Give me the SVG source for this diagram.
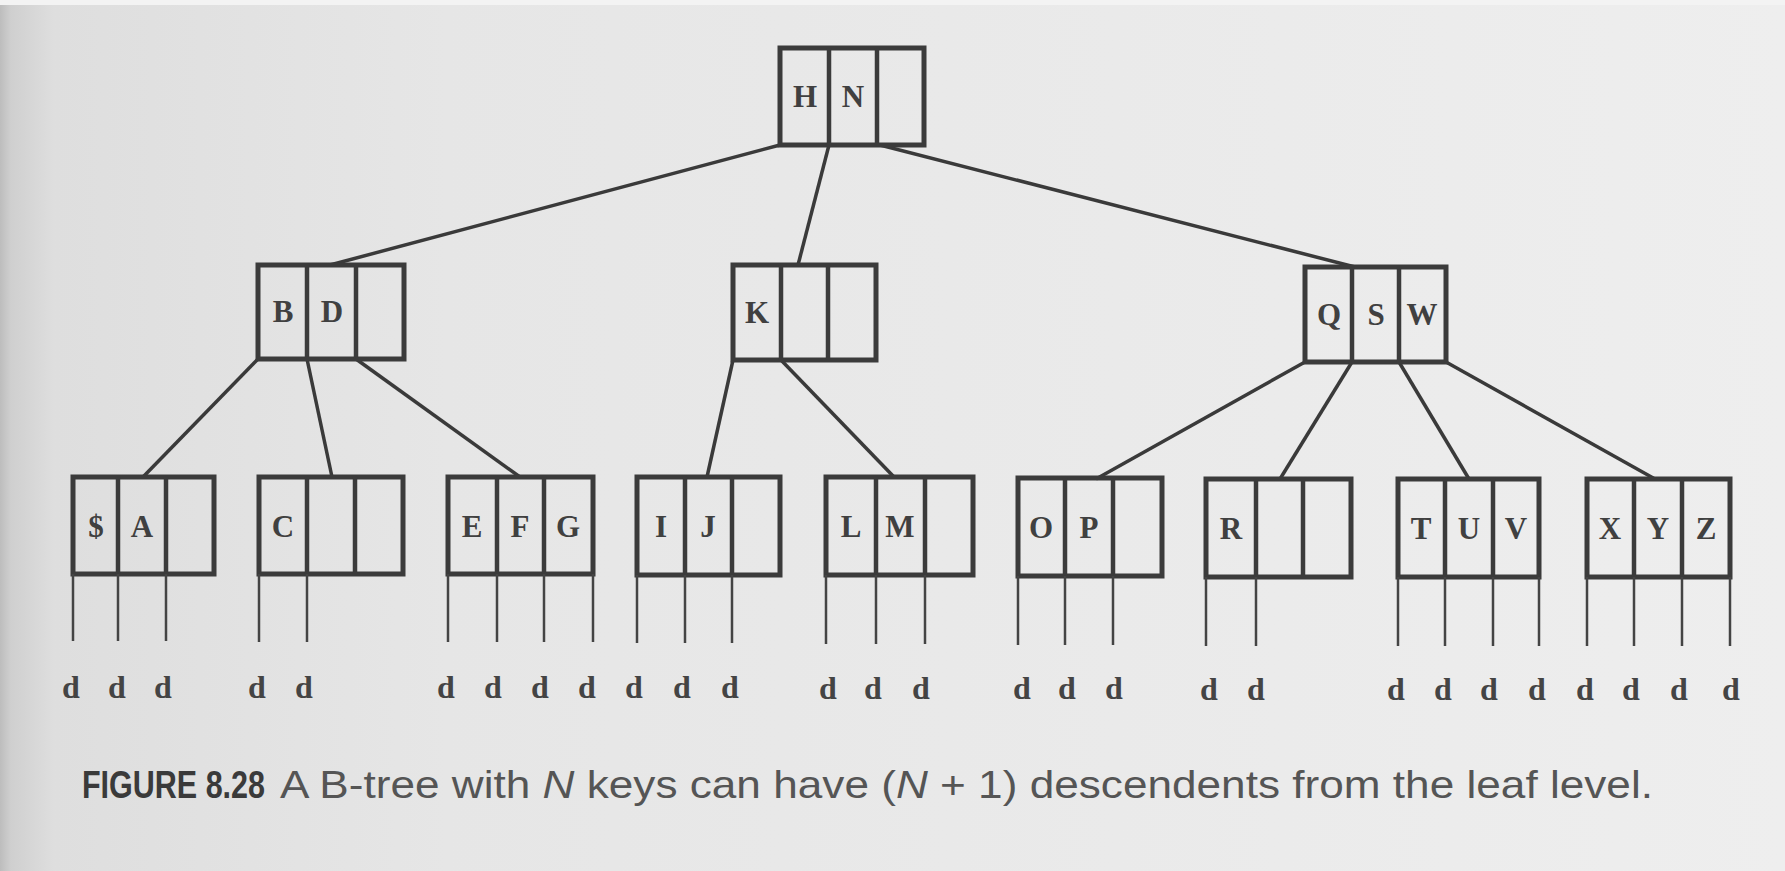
<svg xmlns="http://www.w3.org/2000/svg" width="1785" height="871" viewBox="0 0 1785 871">
<defs>
<linearGradient id="page" x1="0" y1="0" x2="1" y2="0">
<stop offset="0" stop-color="#bdbdbd"/>
<stop offset="0.006" stop-color="#cfcfcf"/>
<stop offset="0.03" stop-color="#dedede"/>
<stop offset="0.25" stop-color="#e6e6e6"/>
<stop offset="1" stop-color="#eeeeee"/>
</linearGradient>
<style>
.box{fill:none;stroke:#3b3b3b;stroke-width:5}
.div{stroke:#3b3b3b;stroke-width:4.5}
.key{font-family:"Liberation Serif",serif;font-weight:bold;font-size:31px;fill:#404040;text-anchor:middle}
.edge{stroke:#3a3a3a;stroke-width:3.5;fill:none}
.drop{stroke:#444;stroke-width:2.5}
.d{font-family:"Liberation Serif",serif;font-weight:bold;font-size:32px;fill:#444;text-anchor:middle}
.cap{font-family:"Liberation Sans",sans-serif;font-size:39px;fill:#555}
.capb{font-family:"Liberation Sans",sans-serif;font-weight:bold;font-size:39px;fill:#3a3a3a}
</style>
</defs>
<rect x="0" y="0" width="1785" height="871" fill="url(#page)"/>
<rect x="0" y="0" width="1785" height="5" fill="#f3f3f3"/>

<g id="connectors">
<line class="edge" x1="780" y1="145" x2="330" y2="265"/>
<line class="edge" x1="829" y1="145" x2="798" y2="265"/>
<line class="edge" x1="880" y1="145" x2="1355" y2="267"/>
<line class="edge" x1="258" y1="359" x2="143" y2="477"/>
<line class="edge" x1="307" y1="359" x2="332" y2="477"/>
<line class="edge" x1="356" y1="359" x2="520" y2="477"/>
<line class="edge" x1="733" y1="360" x2="707" y2="477"/>
<line class="edge" x1="781" y1="360" x2="894" y2="477"/>
<line class="edge" x1="1305" y1="362" x2="1096" y2="479"/>
<line class="edge" x1="1352" y1="362" x2="1280" y2="479"/>
<line class="edge" x1="1399" y1="362" x2="1469" y2="479"/>
<line class="edge" x1="1446" y1="362" x2="1655" y2="479"/>
</g>

<g id="node-HN">
<rect class="box" x="780" y="48" width="144" height="97"/>
<line class="div" x1="829" y1="48" x2="829" y2="145"/>
<line class="div" x1="877" y1="48" x2="877" y2="145"/>
<text class="key" x="805" y="107">H</text>
<text class="key" x="853" y="107">N</text>
</g>

<g id="node-BD">
<rect class="box" x="258" y="265" width="146" height="94"/>
<line class="div" x1="307" y1="265" x2="307" y2="359"/>
<line class="div" x1="356" y1="265" x2="356" y2="359"/>
<text class="key" x="283" y="322">B</text>
<text class="key" x="332" y="322">D</text>
</g>

<g id="node-K">
<rect class="box" x="733" y="265" width="143" height="95"/>
<line class="div" x1="781" y1="265" x2="781" y2="360"/>
<line class="div" x1="828" y1="265" x2="828" y2="360"/>
<text class="key" x="757" y="323">K</text>
</g>

<g id="node-QSW">
<rect class="box" x="1305" y="267" width="141" height="95"/>
<line class="div" x1="1352" y1="267" x2="1352" y2="362"/>
<line class="div" x1="1399" y1="267" x2="1399" y2="362"/>
<text class="key" x="1329" y="325">Q</text>
<text class="key" x="1376" y="325">S</text>
<text class="key" x="1422" y="325">W</text>
</g>

<g id="leaf-A">
<rect class="box" x="73" y="477" width="141" height="97"/>
<line class="div" x1="118" y1="477" x2="118" y2="574"/>
<line class="div" x1="166" y1="477" x2="166" y2="574"/>
<text class="key" x="96" y="537">$</text>
<text class="key" x="142" y="537">A</text>
<line class="drop" x1="73" y1="574" x2="73" y2="641"/>
<line class="drop" x1="118" y1="574" x2="118" y2="641"/>
<line class="drop" x1="166" y1="574" x2="166" y2="641"/>
<text class="d" x="71" y="698">d</text>
<text class="d" x="117" y="698">d</text>
<text class="d" x="163" y="698">d</text>
</g>

<g id="leaf-C">
<rect class="box" x="259" y="477" width="144" height="97"/>
<line class="div" x1="307" y1="477" x2="307" y2="574"/>
<line class="div" x1="355" y1="477" x2="355" y2="574"/>
<text class="key" x="283" y="537">C</text>
<line class="drop" x1="259" y1="574" x2="259" y2="642"/>
<line class="drop" x1="307" y1="574" x2="307" y2="642"/>
<text class="d" x="257" y="698">d</text>
<text class="d" x="304" y="698">d</text>
</g>

<g id="leaf-EFG">
<rect class="box" x="448" y="477" width="145" height="97"/>
<line class="div" x1="497" y1="477" x2="497" y2="574"/>
<line class="div" x1="544" y1="477" x2="544" y2="574"/>
<text class="key" x="472" y="537">E</text>
<text class="key" x="520" y="537">F</text>
<text class="key" x="568" y="537">G</text>
<line class="drop" x1="448" y1="574" x2="448" y2="642"/>
<line class="drop" x1="497" y1="574" x2="497" y2="642"/>
<line class="drop" x1="544" y1="574" x2="544" y2="642"/>
<line class="drop" x1="593" y1="574" x2="593" y2="642"/>
<text class="d" x="446" y="698">d</text>
<text class="d" x="493" y="698">d</text>
<text class="d" x="540" y="698">d</text>
<text class="d" x="587" y="698">d</text>
</g>

<g id="leaf-IJ">
<rect class="box" x="637" y="477" width="143" height="98"/>
<line class="div" x1="685" y1="477" x2="685" y2="575"/>
<line class="div" x1="732" y1="477" x2="732" y2="575"/>
<text class="key" x="661" y="537">I</text>
<text class="key" x="708" y="537">J</text>
<line class="drop" x1="637" y1="575" x2="637" y2="643"/>
<line class="drop" x1="685" y1="575" x2="685" y2="643"/>
<line class="drop" x1="732" y1="575" x2="732" y2="643"/>
<text class="d" x="634" y="698">d</text>
<text class="d" x="682" y="698">d</text>
<text class="d" x="730" y="698">d</text>
</g>

<g id="leaf-LM">
<rect class="box" x="826" y="477" width="147" height="98"/>
<line class="div" x1="876" y1="477" x2="876" y2="575"/>
<line class="div" x1="925" y1="477" x2="925" y2="575"/>
<text class="key" x="851" y="537">L</text>
<text class="key" x="900" y="537">M</text>
<line class="drop" x1="826" y1="575" x2="826" y2="644"/>
<line class="drop" x1="876" y1="575" x2="876" y2="644"/>
<line class="drop" x1="925" y1="575" x2="925" y2="644"/>
<text class="d" x="828" y="699">d</text>
<text class="d" x="873" y="699">d</text>
<text class="d" x="921" y="699">d</text>
</g>

<g id="leaf-OP">
<rect class="box" x="1018" y="478" width="144" height="98"/>
<line class="div" x1="1065" y1="478" x2="1065" y2="576"/>
<line class="div" x1="1113" y1="478" x2="1113" y2="576"/>
<text class="key" x="1041" y="538">O</text>
<text class="key" x="1089" y="538">P</text>
<line class="drop" x1="1018" y1="576" x2="1018" y2="645"/>
<line class="drop" x1="1065" y1="576" x2="1065" y2="645"/>
<line class="drop" x1="1113" y1="576" x2="1113" y2="645"/>
<text class="d" x="1022" y="699">d</text>
<text class="d" x="1067" y="699">d</text>
<text class="d" x="1114" y="699">d</text>
</g>

<g id="leaf-R">
<rect class="box" x="1206" y="479" width="145" height="98"/>
<line class="div" x1="1256" y1="479" x2="1256" y2="577"/>
<line class="div" x1="1303" y1="479" x2="1303" y2="577"/>
<text class="key" x="1231" y="539">R</text>
<line class="drop" x1="1206" y1="577" x2="1206" y2="646"/>
<line class="drop" x1="1256" y1="577" x2="1256" y2="646"/>
<text class="d" x="1209" y="700">d</text>
<text class="d" x="1256" y="700">d</text>
</g>

<g id="leaf-TUV">
<rect class="box" x="1398" y="479" width="141" height="98"/>
<line class="div" x1="1445" y1="479" x2="1445" y2="577"/>
<line class="div" x1="1493" y1="479" x2="1493" y2="577"/>
<text class="key" x="1421" y="539">T</text>
<text class="key" x="1469" y="539">U</text>
<text class="key" x="1516" y="539">V</text>
<line class="drop" x1="1398" y1="577" x2="1398" y2="646"/>
<line class="drop" x1="1445" y1="577" x2="1445" y2="646"/>
<line class="drop" x1="1493" y1="577" x2="1493" y2="646"/>
<line class="drop" x1="1539" y1="577" x2="1539" y2="646"/>
<text class="d" x="1396" y="700">d</text>
<text class="d" x="1443" y="700">d</text>
<text class="d" x="1489" y="700">d</text>
<text class="d" x="1537" y="700">d</text>
</g>

<g id="leaf-XYZ">
<rect class="box" x="1587" y="479" width="143" height="98"/>
<line class="div" x1="1634" y1="479" x2="1634" y2="577"/>
<line class="div" x1="1682" y1="479" x2="1682" y2="577"/>
<text class="key" x="1610" y="539">X</text>
<text class="key" x="1658" y="539">Y</text>
<text class="key" x="1706" y="539">Z</text>
<line class="drop" x1="1587" y1="577" x2="1587" y2="646"/>
<line class="drop" x1="1634" y1="577" x2="1634" y2="646"/>
<line class="drop" x1="1682" y1="577" x2="1682" y2="646"/>
<line class="drop" x1="1730" y1="577" x2="1730" y2="646"/>
<text class="d" x="1585" y="700">d</text>
<text class="d" x="1631" y="700">d</text>
<text class="d" x="1679" y="700">d</text>
<text class="d" x="1731" y="700">d</text>
</g>

<g id="caption">
<text class="capb" x="82" y="798" textLength="183" lengthAdjust="spacingAndGlyphs">FIGURE 8.28</text>
<text class="cap" x="280" y="798" textLength="1373" lengthAdjust="spacingAndGlyphs">A B-tree with <tspan font-style="italic">N</tspan> keys can have (<tspan font-style="italic">N</tspan> + 1) descendents from the leaf level.</text>
</g>
</svg>
